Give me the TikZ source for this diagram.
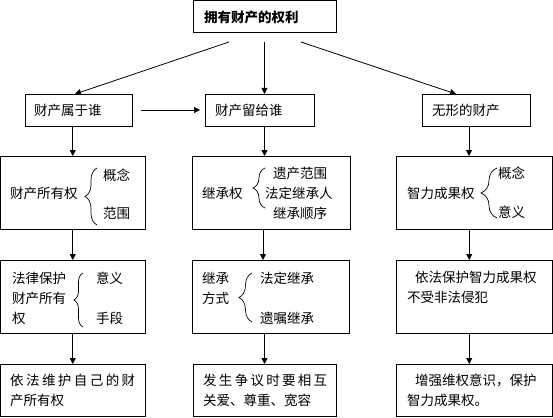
\documentclass[tikz,border=0pt]{standalone}
\usepackage{fontspec}
\setmainfont{Noto Sans CJK SC}
\usetikzlibrary{arrows.meta,decorations.pathreplacing}
\tikzset{
  box/.style={draw,line width=0.8pt,inner sep=0pt,outer sep=0pt},
  txt/.style={inner sep=0pt,anchor=west,align=left,font=\fontsize{13.5pt}{20pt}\selectfont},
  arr/.style={line width=0.8pt,-{Triangle[length=6pt,width=6pt]}},
  brc/.style={line width=0.7pt,decorate,decoration={brace,amplitude=#1}},
}
\begin{document}
\begin{tikzpicture}[x=1pt,y=-1pt]
\useasboundingbox (0,0) rectangle (553,417);
% boxes
\node[box,minimum width=143pt,minimum height=31.5pt] (top) at (264.5,16.25) {};
\node[box,minimum width=107pt,minimum height=32pt] (r2a) at (78.5,110) {};
\node[box,minimum width=109pt,minimum height=32pt] (r2b) at (259.5,110) {};
\node[box,minimum width=108pt,minimum height=32pt] (r2c) at (476,110) {};
\node[box,minimum width=144.5pt,minimum height=73pt] (r3a) at (72.75,192.5) {};
\node[box,minimum width=158pt,minimum height=73pt] (r3b) at (271,192.5) {};
\node[box,minimum width=156.5pt,minimum height=73pt] (r3c) at (474.25,192.5) {};
\node[box,minimum width=144.5pt,minimum height=73pt] (r4a) at (72.75,296.5) {};
\node[box,minimum width=157pt,minimum height=73pt] (r4b) at (270.5,296.5) {};
\node[box,minimum width=156.5pt,minimum height=73pt] (r4c) at (474.25,296.5) {};
\node[box,minimum width=144.5pt,minimum height=52.5pt] (r5a) at (72.75,390.25) {};
\node[box,minimum width=143pt,minimum height=52.5pt] (r5b) at (264.5,390.25) {};
\node[box,minimum width=156.5pt,minimum height=52.5pt] (r5c) at (474.25,390.25) {};
% texts
\node[txt,font=\fontsize{13.5pt}{20pt}\selectfont\bfseries] (ttop) at (204,17) {拥有财产的权利};
\node[txt] (t2a) at (34,110) {财产属于谁};
\node[txt] (t2b) at (215,110) {财产留给谁};
\node[txt] (t2c) at (432,110) {无形的财产};
\node[txt] (t3a) at (10,193) {财产所有权};
\node[txt] (t3a1) at (103,175) {概念};
\node[txt] (t3a2) at (103,213) {范围};
\node[txt] (t3b) at (202,193) {继承权};
\node[txt] (t3b1) at (273,173) {遗产范围};
\node[txt] (t3b2) at (265,193) {法定继承人};
\node[txt] (t3b3) at (273,213) {继承顺序};
\node[txt] (t3c) at (407,193) {智力成果权};
\node[txt] (t3c1) at (498,173) {概念};
\node[txt] (t3c2) at (498,212) {意义};
\node[txt] (t4a) at (12,298) {法律保护\\财产所有\\权};
\node[txt] (t4a1) at (96,278) {意义};
\node[txt] (t4a2) at (96,318) {手段};
\node[txt] (t4b) at (202,288) {继承\\方式};
\node[txt] (t4b1) at (260,278) {法定继承};
\node[txt] (t4b2) at (260,318) {遗嘱继承};
\node[txt] (t4c) at (407,287) {\hspace{8pt}依法保护智力成果权\\不受非法侵犯};
\node[txt] (t5a) at (10,390) {\makebox[125pt][s]{依\hfil 法\hfil 维\hfil 护\hfil 自\hfil 己\hfil 的\hfil 财}\\产所有权};
\node[txt] (t5b) at (203,390) {\makebox[124pt][s]{发\hfil 生\hfil 争\hfil 议\hfil 时\hfil 要\hfil 相\hfil 互}\\关爱、尊重、宽容};
\node[txt] (t5c) at (407,390) {\hspace{8pt}增强维权意识，保护\\智力成果权。};
% braces
\draw[brc=12pt] (97,225) -- (97,168);
\draw[brc=12pt] (265,208) -- (265,168);
\draw[brc=16pt] (497,218) -- (497,168);
\draw[brc=9pt] (83,327) -- (83,273);
\draw[brc=13pt] (252,322) -- (252,273);
% connectors
\draw[arr] ([xshift=-35.5pt,yshift=-10pt]top.south) -- ([xshift=-3.5pt]r2a.north);
\draw[arr] ([yshift=-10pt]top.south) -- (top.south |- r2b.north);
\draw[arr] ([xshift=36.5pt,yshift=-10pt]top.south) -- ([xshift=-20pt]r2c.north);
\draw[arr] ([xshift=9pt]r2a.east) -- ([xshift=-5pt]r2b.west);
\draw[arr] (r2a.south -| r3a.north) -- (r3a.north);
\draw[arr] (r2b.south -| top.south) -- (r3b.north -| top.south);
\draw[arr] ([xshift=-7pt]r2c.south) -- ([xshift=-7pt]r2c.south |- r3c.north);
\draw[arr] (r3a.south) -- (r4a.north);
\draw[arr] ([xshift=-8pt]r3b.south) -- ([xshift=-8pt]r3b.south |- r4b.north);
\draw[arr] ([xshift=-5pt]r3c.south) -- ([xshift=-5pt]r4c.north);
\draw[arr] (r4a.south) -- (r5a.north);
\draw[arr] (r4b.south -| r5b.north) -- (r5b.north);
\draw[arr] ([xshift=-5pt]r4c.south) -- ([xshift=-5pt]r5c.north);
\end{tikzpicture}
\end{document}
